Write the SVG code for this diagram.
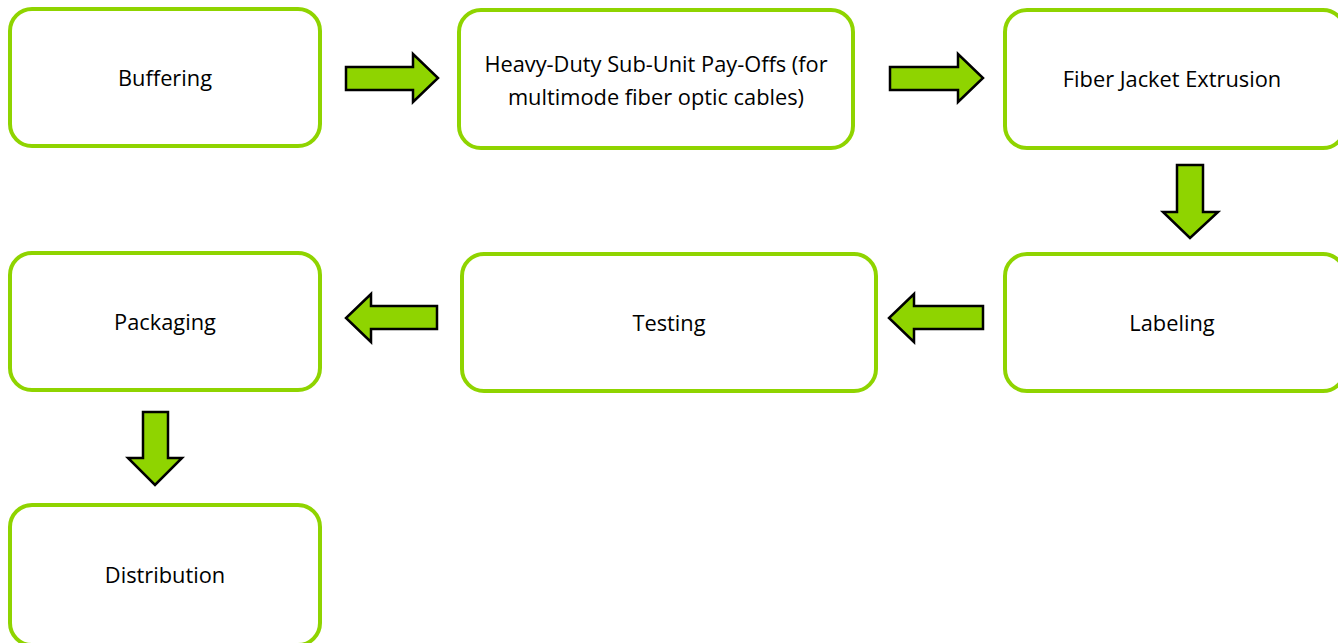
<svg xmlns="http://www.w3.org/2000/svg" width="1338" height="643" viewBox="0 0 1338 643">
<style>
.box{fill:#fff;stroke:#8FD400;stroke-width:4}
.arr{fill:#8FD400;stroke:#000;stroke-width:2.5;stroke-linejoin:miter}
.t{font-family:"Open Sans","Liberation Sans",sans-serif;font-size:21.8px;fill:#000;text-anchor:middle}
</style>
<rect width="1338" height="643" fill="#fff"/>
<g id="buffering"><rect class="box" x="10" y="9" width="310" height="137" rx="22"/><text class="t" x="165" y="86">Buffering</text></g>
<g id="payoffs"><rect class="box" x="459" y="10" width="394" height="138" rx="22"/><text class="t" x="656" y="72">Heavy-Duty Sub-Unit Pay-Offs (for</text><text class="t" x="656" y="105">multimode fiber optic cables)</text></g>
<g id="extrusion"><rect class="box" x="1005" y="10" width="340" height="138" rx="22"/><text class="t" x="1172" y="87">Fiber Jacket Extrusion</text></g>
<g id="labeling"><rect class="box" x="1005" y="254" width="340" height="137" rx="22"/><text class="t" x="1172" y="331">Labeling</text></g>
<g id="testing"><rect class="box" x="462" y="254" width="414" height="137" rx="22"/><text class="t" x="669" y="331">Testing</text></g>
<g id="packaging"><rect class="box" x="10" y="253" width="310" height="137" rx="22"/><text class="t" x="165" y="330">Packaging</text></g>
<g id="distribution"><rect class="box" x="10" y="505" width="310" height="140" rx="22"/><text class="t" x="165" y="583">Distribution</text></g>
<g id="connectors">
<polygon class="arr" points="346,67 413,67 413,54 438,78 413,102 413,90 346,90"/>
<polygon class="arr" points="890,67 958,67 958,54 983,78 958,102 958,90 890,90"/>
<polygon class="arr" points="1177,165 1203,165 1203,212 1218,212 1190,238 1163,212 1177,212"/>
<polygon class="arr" points="983,306 914,306 914,294 889,318 914,342 914,329 983,329"/>
<polygon class="arr" points="437,306 371,306 371,294 346,318 371,342 371,329 437,329"/>
<polygon class="arr" points="143,412 168,412 168,458 182,458 155,485 128,458 143,458"/>
</g>
</svg>
